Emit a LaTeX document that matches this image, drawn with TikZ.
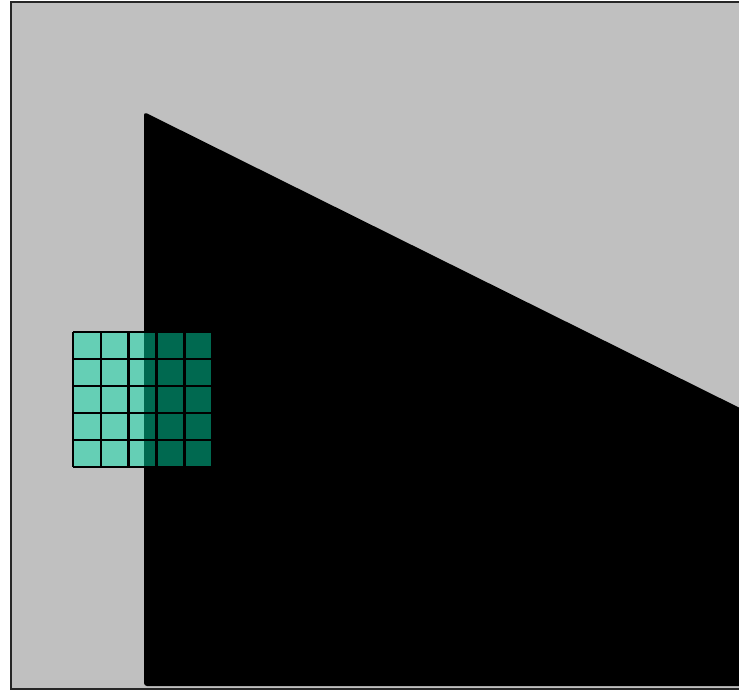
\documentclass[tikz,border=0pt]{standalone}
\usepackage{tikz}
\usetikzlibrary{positioning}
\usetikzlibrary{calc}
\definecolor{panelgray}{RGB}{192,192,192}
\definecolor{cellteal}{RGB}{0,224,170}

\begin{document}
\begin{tikzpicture}[x=1pt,y=-1pt]
		\useasboundingbox (0,0) rectangle (739,692);

		% Draw the gray panel
		\coordinate (p1) at (11,2);
		\coordinate (p2) at (760,689);
		\filldraw[fill=panelgray, draw=black!85, line width=2pt] (p1) rectangle (p2);

		% Draw the black wedge
		\coordinate (w1) at (144,112);
		\coordinate (w2) at (760,418);
		\coordinate (w3) at (760,686);
		\coordinate (w4) at (144,686);
		\fill[black, rounded corners=3pt] (w1) -- (w2) -- (w3) -- (w4) -- cycle;

		% Draw the cell grid
		\coordinate (g1) at (73,332);
		\coordinate (g2) at (212.5,467);
		\fill[cellteal, fill opacity=0.47] (g1) rectangle (g2);
		\foreach \i in {0,...,5} {
			\draw[black, line width=2.7pt] ($(g1)+(27.9*\i,0)$) -- ++(0,135);
			\draw[black, line width=2.7pt] ($(g1)+(0,27*\i)$) -- ++(139.5,0);
		}
	\end{tikzpicture}
\end{document}
